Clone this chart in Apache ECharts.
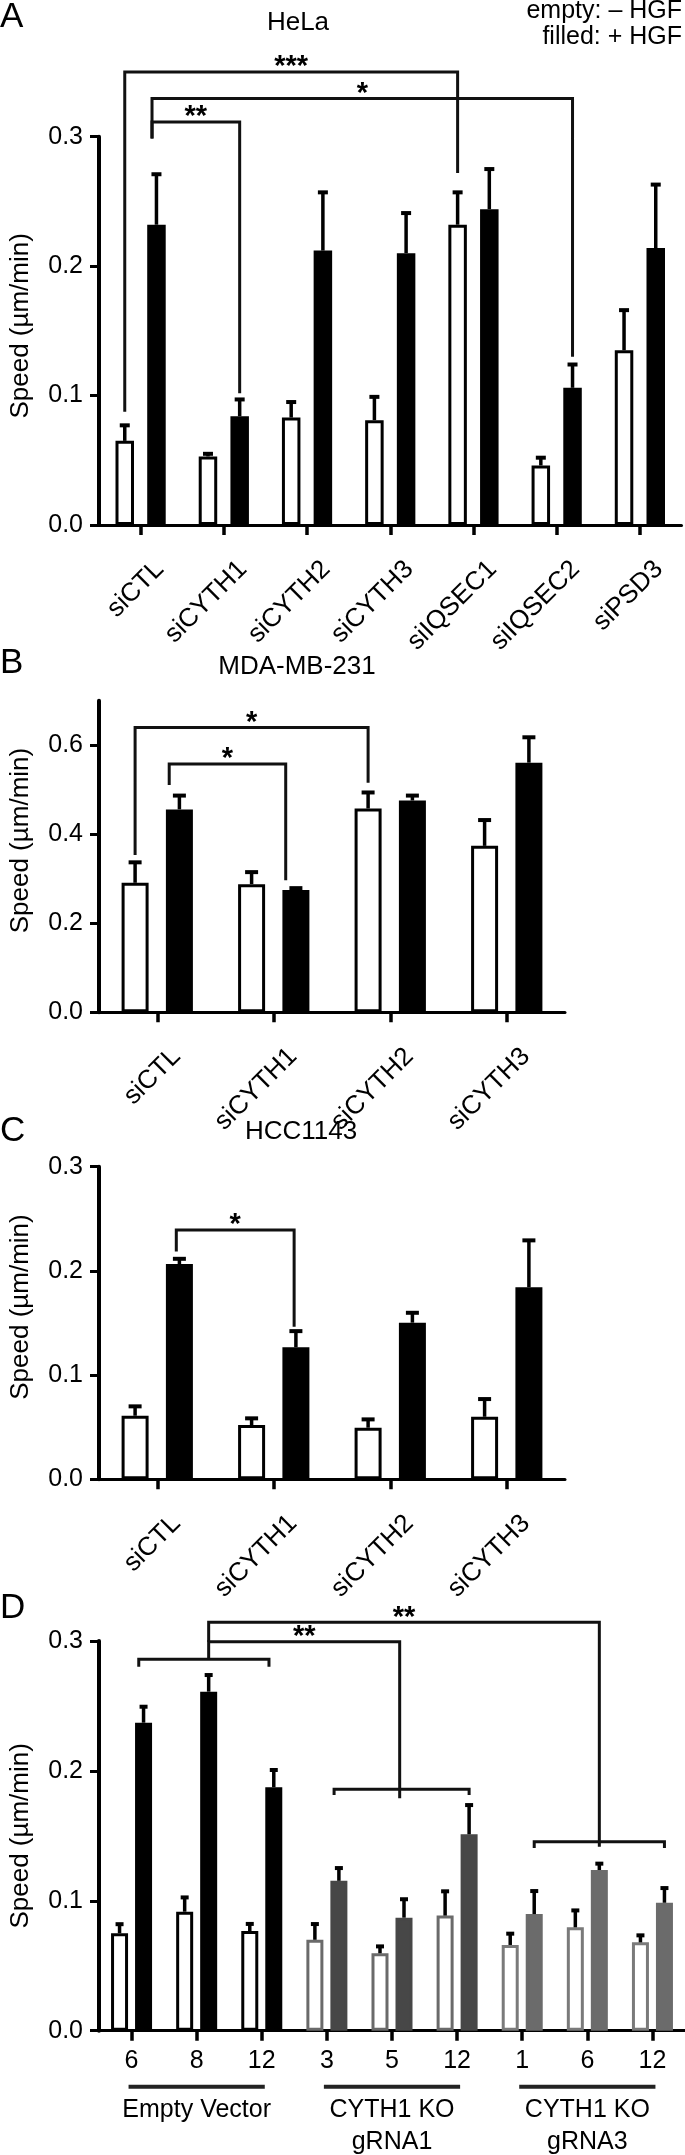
<!DOCTYPE html>
<html><head><meta charset="utf-8">
<script src="https://cdn.jsdelivr.net/npm/echarts@6/dist/echarts.min.js"></script>
<style>html,body{margin:0;padding:0;background:#fff}#c{width:685px;height:2155px}</style>
</head><body><div id="c"></div><script>
// ================= DATA =================
// Panel A : HeLa
const catsA = ['siCTL', 'siCYTH1', 'siCYTH2', 'siCYTH3', 'siIQSEC1', 'siIQSEC2', 'siPSD3'];
const aNoHGF    = [0.065, 0.053, 0.083, 0.081, 0.232, 0.046, 0.135];
const aNoHGFsem = [0.012, 0.002, 0.012, 0.018, 0.025, 0.006, 0.031];
const aHGF      = [0.232, 0.084, 0.212, 0.210, 0.244, 0.106, 0.214];
const aHGFsem   = [0.039, 0.013, 0.045, 0.031, 0.031, 0.018, 0.049];
const yTicksA = [0, 0.1, 0.2, 0.3];
// bracket: [catFrom, barFrom(0=empty,1=filled), catTo, barTo, lineValue, legFromEnd, legToEnd]
const bracketsA = [
  [0, 0, 4, 0, 0.350, 0.0875, 0.272],
  [0, 0.86, 5, 1, 0.3295, 0.2986, 0.130],
  [0, 0.86, 1, 1, 0.3114, 0.2986, 0.1017]
];
const bracketLabelsA = ['***', '*', '**'];

// Panel B : MDA-MB-231
const catsB = ['siCTL', 'siCYTH1', 'siCYTH2', 'siCYTH3'];
const bNoHGF    = [0.291, 0.288, 0.458, 0.374];
const bNoHGFsem = [0.046, 0.027, 0.036, 0.058];
const bHGF      = [0.456, 0.275, 0.476, 0.561];
const bHGFsem   = [0.031, 0.004, 0.011, 0.057];
const yTicksB = [0, 0.2, 0.4, 0.6];
const bracketsB = [
  [0, 0, 2, 0, 0.640, 0.3535, 0.516],
  [0, 0.77, 1, 0.77, 0.558, 0.511, 0.297]
];
const bracketLabelsB = ['*', '*'];

// Panel C : HCC1143
const catsC = ['siCTL', 'siCYTH1', 'siCYTH2', 'siCYTH3'];
const cNoHGF    = [0.061, 0.052, 0.0495, 0.060];
const cNoHGFsem = [0.009, 0.0065, 0.008, 0.017];
const cHGF      = [0.2066, 0.1267, 0.1503, 0.1843];
const cHGFsem   = [0.005, 0.0155, 0.0095, 0.045];
const yTicksC = [0, 0.1, 0.2, 0.3];
const bracketsC = [
  [0, 0.93, 1, 0.96, 0.2393, 0.2185, 0.1465]
];
const bracketLabelsC = ['*'];

// Panel D : clones
const clonesD = ['6', '8', '12', '3', '5', '12', '1', '6', '12'];
const groupOfD = [0, 0, 0, 1, 1, 1, 2, 2, 2];
const groupNamesD = ['Empty Vector', 'CYTH1 KO\ngRNA1', 'CYTH1 KO\ngRNA3'];
const groupSpansD = [[0, 2], [3, 5], [6, 8]];
const dNoHGF    = [0.075, 0.0916, 0.0767, 0.0700, 0.0596, 0.0886, 0.066, 0.0796, 0.068];
const dNoHGFsem = [0.007, 0.011, 0.0055, 0.0121, 0.0053, 0.0187, 0.0087, 0.013, 0.0054];
const dHGF      = [0.2371, 0.261, 0.1874, 0.1154, 0.087, 0.1512, 0.0898, 0.1237, 0.0985];
const dHGFsem   = [0.0123, 0.0128, 0.0133, 0.0098, 0.0142, 0.0225, 0.0177, 0.0049, 0.0113];
const yTicksD = [0, 0.1, 0.2, 0.3];
const bracketsD = [
  [0, 0.8, 2, 0.8, 0.2859, 0.2802, 0.2802],
  [3, 0.8, 5, 1, 0.1858, 0.1814, 0.1814],
  [6, 1, 8, 1, 0.1455, 0.1406, 0.1406],
  [1, 1, 4, 0.82, 0.2995, 0.2859, 0.179],
  [1, 1, 7, 1, 0.3144, 0.2995, 0.1417]
];
const bracketLabelsD = ['', '', '', '**', '**'];

// ================= STYLE / LAYOUT =================
const FONT = '"Liberation Sans", Arial, Helvetica, sans-serif';
const FS = 25;
const D_FILL = ['#000000', '#474747', '#6b6b6b'];
const D_EDGE = ['#000000', '#6a6a6a', '#7a7a7a'];

const panels = [
  {cats: catsA, w: aNoHGF, ws: aNoHGFsem, f: aHGF, fs: aHGFsem, ticks: yTicksA, max: 0.3, interval: 0.1,
   br: bracketsA, brl: bracketLabelsA, nameUp: 5,
   grid: {left: 97, top: 136.7, width: 584.5, height: 388.3}, barW: 18.5, sep: 31.7, cap: 10, rot: true},
  {cats: catsB, w: bNoHGF, ws: bNoHGFsem, f: bHGF, fs: bHGFsem, ticks: yTicksB, max: 0.7, interval: 0.2,
   br: bracketsB, brl: bracketLabelsB, nameUp: 16,
   grid: {left: 97, top: 700.8, width: 468, height: 311.5}, barW: 27, sep: 44.3, cap: 13, rot: true},
  {cats: catsC, w: cNoHGF, ws: cNoHGFsem, f: cHGF, fs: cHGFsem, ticks: yTicksC, max: 0.3, interval: 0.1,
   br: bracketsC, brl: bracketLabelsC, nameUp: 16,
   grid: {left: 97, top: 1166.7, width: 468, height: 312.6}, barW: 27, sep: 44.3, cap: 13, rot: true},
  {cats: clonesD, w: dNoHGF, ws: dNoHGFsem, f: dHGF, fs: dHGFsem, ticks: yTicksD, max: 0.3, interval: 0.1,
   br: bracketsD, brl: bracketLabelsD, nameUp: 0,
   grid: {left: 97, top: 1641, width: 588, height: 389.7}, barW: 17, sep: 24, cap: 8, rot: false}
];

const grids = [], xAxes = [], yAxes = [], series = [];

function errRender(sep, capW) {
  return function (params, api) {
    const cat = api.value(0), mean = api.value(1), top = api.value(2), s = api.value(3);
    const p0 = api.coord([cat, mean]);
    const p1 = api.coord([cat, top]);
    const x = p0[0] + (s - 0.5) * sep;
    return {type: 'group', children: [
      {type: 'line', shape: {x1: x, y1: p0[1], x2: x, y2: p1[1]}, style: {stroke: '#000', lineWidth: 3.5}},
      {type: 'line', shape: {x1: x - capW / 2, y1: p1[1], x2: x + capW / 2, y2: p1[1]}, style: {stroke: '#000', lineWidth: 4}}
    ]};
  };
}

function bracketRender(list, labels, sep) {
  return function (params, api) {
    const b = list[params.dataIndex];
    const xa = api.coord([b[0], 0])[0] + (b[1] - 0.5) * sep;
    const xb = api.coord([b[2], 0])[0] + (b[3] - 0.5) * sep;
    const yl = api.coord([0, b[4]])[1];
    const ya = api.coord([0, b[5]])[1];
    const yb = api.coord([0, b[6]])[1];
    const children = [{
      type: 'polyline',
      shape: {points: [[xa, ya], [xa, yl], [xb, yl], [xb, yb]]},
      style: {stroke: '#111', lineWidth: 3, fill: 'none', lineJoin: 'miter'}
    }];
    const lab = labels[params.dataIndex];
    if (lab) {
      children.push({type: 'text', x: (xa + xb) / 2, y: yl + 10,
        style: {text: lab, font: 'bold 29px ' + FONT, fill: '#000', align: 'center', verticalAlign: 'bottom'}});
    }
    return {type: 'group', children: children};
  };
}

panels.forEach(function (p, i) {
  grids.push(Object.assign({containLabel: false}, p.grid));
  xAxes.push({
    gridIndex: i, type: 'category', data: p.cats,
    axisLine: {show: true, lineStyle: {color: '#000', width: 3}},
    axisTick: {show: true, alignWithLabel: true, length: 10, lineStyle: {color: '#000', width: 3.5}},
    axisLabel: p.rot
      ? {rotate: 45, fontSize: 26, fontFamily: FONT, color: '#000', margin: 31, verticalAlign: 'top',
         padding: [7, -7, 0, 0], interval: 0}
      : {fontSize: FS, fontFamily: FONT, color: '#000', margin: 18, interval: 0},
    splitLine: {show: false}
  });
  yAxes.push({
    gridIndex: i, type: 'value', min: 0, max: p.max, interval: p.interval,
    axisLine: {show: true, lineStyle: {color: '#000', width: 4}},
    axisTick: {show: true, length: 9, lineStyle: {color: '#000', width: 3}, customValues: p.ticks},
    axisLabel: {customValues: p.ticks, formatter: function (v) { return v.toFixed(1); },
      fontSize: FS, fontFamily: FONT, color: '#000', margin: 16},
    splitLine: {show: false},
    name: 'Speed (\u00b5m/min)', nameLocation: 'middle', nameGap: 65,
    nameTextStyle: {fontSize: 26, fontFamily: FONT, color: '#000', padding: [0, 0, 0, p.nameUp * 2]}
  });
  const isD = (i === 3);
  series.push({
    type: 'bar', xAxisIndex: i, yAxisIndex: i, barWidth: p.barW,
    barGap: ((p.sep - p.barW) / p.barW * 100).toFixed(1) + '%',
    data: p.w.map(function (v, k) {
      return {value: v, itemStyle: {color: '#fff', borderColor: isD ? D_EDGE[groupOfD[k]] : '#000', borderWidth: 3}};
    }),
    z: 2, silent: true
  });
  series.push({
    type: 'bar', xAxisIndex: i, yAxisIndex: i, barWidth: p.barW,
    data: p.f.map(function (v, k) {
      const c = isD ? D_FILL[groupOfD[k]] : '#000';
      return {value: v, itemStyle: {color: c, borderColor: c, borderWidth: 3}};
    }),
    z: 2, silent: true
  });
  const errData = [];
  p.w.forEach(function (v, k) { errData.push([k, v, v + p.ws[k], 0]); });
  p.f.forEach(function (v, k) { errData.push([k, v, v + p.fs[k], 1]); });
  series.push({
    type: 'custom', xAxisIndex: i, yAxisIndex: i, clip: false, silent: true, z: 3,
    renderItem: errRender(p.sep, p.cap), encode: {x: 0, y: [1, 2]}, data: errData
  });
  series.push({
    type: 'custom', xAxisIndex: i, yAxisIndex: i, clip: false, silent: true, z: 4,
    renderItem: bracketRender(p.br, p.brl, p.sep), encode: {x: 0, y: 1},
    data: p.br.map(function (b) { return [b[0], b[4]]; })
  });
});

// group labels under panel D
series.push({
  type: 'custom', xAxisIndex: 3, yAxisIndex: 3, clip: false, silent: true, z: 4,
  encode: {x: 0, y: 2},
  data: groupSpansD.map(function (g) { return [g[0], g[1], 0]; }),
  renderItem: function (params, api) {
    const a = api.coord([api.value(0), 0]);
    const b = api.coord([api.value(1), 0]);
    const y0 = a[1];
    return {type: 'group', children: [
      {type: 'line', shape: {x1: a[0] - 3, y1: y0 + 56, x2: b[0] + 3, y2: y0 + 56}, style: {stroke: '#222', lineWidth: 4}},
      {type: 'text', x: (a[0] + b[0]) / 2, y: y0 + 63,
        style: {text: groupNamesD[params.dataIndex], font: FS + 'px ' + FONT, fill: '#000',
          align: 'center', verticalAlign: 'top', lineHeight: 32}}
    ]};
  }
});

const txt = function (t, x, y, size, align) {
  return {type: 'text', x: x, y: y, style: {text: t, font: size + 'px ' + FONT, fill: '#000', align: align || 'center', verticalAlign: 'middle'}};
};

const option = {
  animation: false,
  backgroundColor: '#fff',
  grid: grids, xAxis: xAxes, yAxis: yAxes, series: series,
  graphic: [
    txt('A', 0, 17, 35, 'left'),
    txt('B', 0, 663, 35, 'left'),
    txt('C', 0, 1131, 35, 'left'),
    txt('D', 0, 1608, 35, 'left'),
    txt('HeLa', 298, 23, 26),
    txt('MDA-MB-231', 297, 667, 26),
    txt('HCC1143', 301, 1132, 26),
    txt('empty: \u2013 HGF', 682, 11, 25, 'right'),
    txt('filled: + HGF', 682, 37, 25, 'right')
  ]
};

const chart = echarts.init(document.getElementById('c'), null, {renderer: 'canvas', width: 685, height: 2155});
chart.setOption(option);
</script></body></html>
